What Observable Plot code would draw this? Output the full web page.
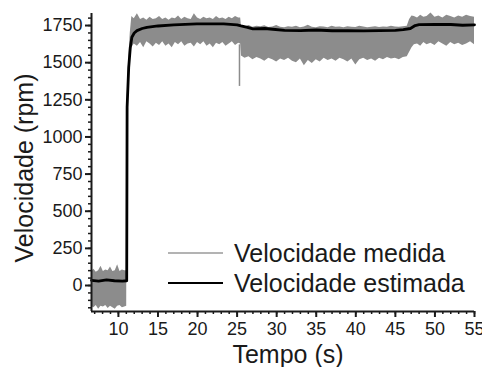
<!DOCTYPE html>
<html>
<head>
<meta charset="utf-8">
<script src="https://cdn.jsdelivr.net/npm/d3@7"></script>
<script src="https://cdn.jsdelivr.net/npm/@observablehq/plot@0.6"></script>
<style>
  html, body { margin: 0; padding: 0; background: white; }
  #chart { position: relative; width: 482px; height: 367px; overflow: hidden; }
</style>
</head>
<body>
<div id="chart"></div>
<script>
// ---- Data ----
// Measured speed: envelope of the noisy gray band
const bandT = [
  6.6, 6.9, 7.2, 7.5, 7.8, 8.1, 8.4, 8.7, 9.0, 9.3, 9.6, 9.9, 10.2, 10.5, 10.8, 11.05,
  11.1, 11.3, 11.5, 11.7, 12.0, 12.4, 12.8, 13.2, 13.6, 14.0, 14.4, 14.8, 15.2, 15.6, 16.0, 16.4, 16.8, 17.2, 17.6, 18.0, 18.4, 18.8, 19.2, 19.6, 20.0, 20.4, 20.8, 21.2, 21.6, 22.0, 22.4, 22.8, 23.2, 23.6, 24.0, 24.4, 24.8, 25.2, 25.45,
  25.55, 26.0, 26.5, 27.0, 27.5, 28.0, 28.5, 29.0, 29.5, 30.0, 30.5, 31.0, 31.5, 32.0, 32.5, 33.0, 33.5, 34.0, 34.5, 35.0, 35.5, 36.0, 36.5, 37.0, 37.5, 38.0, 38.5, 39.0, 39.5, 40.0, 40.5, 41.0, 41.5, 42.0, 42.5, 43.0, 43.5, 44.0, 44.5, 45.0, 45.5, 46.0, 46.5,
  46.8, 47.1, 47.4, 47.8, 48.2, 48.6, 49.0, 49.5, 50.0, 50.5, 51.0, 51.5, 52.0, 52.5, 53.0, 53.5, 54.0, 54.5, 55.0
];
const bandHigh = [
  95, 110, 90, 100, 130, 95, 105, 100, 125, 95, 100, 140, 95, 105, 100, 100,
  1250, 1520, 1700, 1810, 1795, 1830, 1790, 1800, 1785, 1805, 1790, 1795, 1810, 1790, 1800, 1785, 1800, 1795, 1815, 1790, 1805, 1795, 1790, 1830, 1800, 1790, 1805, 1795, 1800, 1790, 1810, 1795, 1800, 1790, 1805, 1795, 1810, 1800, 1800,
  1745, 1740, 1750, 1738, 1745, 1742, 1748, 1736, 1740, 1750, 1738, 1735, 1742, 1738, 1745, 1735, 1740, 1752, 1738, 1735, 1742, 1740, 1735, 1745, 1738, 1740, 1735, 1742, 1738, 1736, 1745, 1740, 1735, 1738, 1742, 1736, 1740, 1738, 1745, 1740, 1738, 1742, 1745,
  1790, 1815, 1810, 1800, 1820, 1805, 1810, 1835, 1805, 1815, 1800, 1820, 1810, 1800, 1815, 1805, 1820, 1810, 1805
];
const bandLow = [
  -140, -150, -135, -160, -140, -145, -135, -155, -140, -150, -160, -140, -135, -150, -145, -140,
  1150, 1420, 1560, 1600, 1625, 1610, 1635, 1600, 1640, 1625, 1605, 1630, 1615, 1640, 1610, 1625, 1600, 1635, 1620, 1640, 1610, 1625, 1630, 1605, 1635, 1620, 1640, 1610, 1625, 1600, 1630, 1620, 1635, 1610, 1625, 1640, 1615, 1630, 1625,
  1545, 1530, 1540, 1520, 1535, 1525, 1510, 1530, 1520, 1505, 1525, 1515, 1530, 1510, 1500, 1525, 1480, 1515, 1495, 1520, 1505, 1530, 1515, 1525, 1510, 1530, 1520, 1505, 1525, 1485, 1520, 1530, 1515, 1525, 1510, 1530, 1520, 1535, 1525, 1530, 1520, 1535, 1540,
  1570, 1600, 1620, 1625, 1610, 1635, 1620, 1630, 1615, 1640, 1625, 1610, 1635, 1620, 1630, 1615, 1625, 1640, 1620
];
// Downward spike in the measured speed
const spikeT = [25.3];
const spikeLow = [1340];
const spikeHigh = [1620];

// Estimated speed (black line)
const estT = [6.6, 7.5, 8.5, 9.5, 10.5, 11.05, 11.1, 11.3, 11.5, 11.7, 12.0, 12.35, 13.0, 13.6, 15.0, 17.0, 19.9, 23.3, 25.0, 25.5, 26.3, 27.0, 28.5, 29.5, 31.0, 33.0, 35.0, 37.0, 39.0, 41.0, 43.0, 45.0, 46.0, 46.9, 47.5, 48.0, 50.0, 52.0, 53.5, 55.0];
const estV = [35, 30, 38, 32, 30, 32, 1200, 1467, 1600, 1671, 1700, 1716, 1730, 1738, 1747, 1754, 1761, 1761, 1755, 1748, 1738, 1728, 1730, 1725, 1718, 1716, 1720, 1715, 1716, 1714, 1716, 1718, 1722, 1730, 1750, 1756, 1758, 1757, 1752, 1755];

// Ticks
const xTicks = [10, 15, 20, 25, 30, 35, 40, 45, 50, 55];
const yTicks = [0, 250, 500, 750, 1000, 1250, 1500, 1750];
const xMinor = d3.range(7, 56, 1);
const yMinor = d3.range(-150, 1801, 50);

const xTitle = "Tempo (s)";
const yTitle = "Velocidade (rpm)";
const seriesNames = ["Velocidade medida", "Velocidade estimada"];
const seriesColors = ["#8c8c8c", "#000000"];

// ---- Build tables ----
const band = bandT.map((t, i) => ({t, low: bandLow[i], high: bandHigh[i]}));
const spike = spikeT.map((t, i) => ({t, low: spikeLow[i], high: spikeHigh[i]}));
const est = estT.map((t, i) => ({t, v: estV[i]}));

const xMin = 6.6, yMin = -175;
const ink = "#1a1a1a";
const font = "'Liberation Sans', Arial, sans-serif";

const svg = Plot.plot({
  width: 482,
  height: 367,
  marginLeft: 91,
  marginRight: 8,
  marginTop: 13,
  marginBottom: 56,
  style: {fontFamily: font, color: ink, background: "white", overflow: "visible"},
  x: {domain: [xMin, 55]},
  y: {domain: [yMin, 1831]},
  marks: [
    Plot.areaY(band, {x: "t", y1: "low", y2: "high", fill: seriesColors[0]}),
    Plot.ruleX(spike, {x: "t", y1: "low", y2: "high", stroke: seriesColors[0], strokeWidth: 1.5}),
    Plot.lineY(est, {x: "t", y: "v", stroke: seriesColors[1], strokeWidth: 2.8}),
    Plot.ruleX([xMin], {stroke: ink, strokeWidth: 2}),
    Plot.ruleY([yMin], {stroke: ink, strokeWidth: 2}),
    Plot.axisX(xMinor, {tickSize: 3, tickFormat: () => "", label: null, stroke: ink, strokeWidth: 1.5}),
    Plot.axisX(xTicks, {tickSize: 6, tickPadding: 5, fontSize: 18, tickFormat: d => String(d), label: null, stroke: ink, strokeWidth: 2}),
    Plot.axisY(yMinor, {tickSize: 3, tickFormat: () => "", label: null, stroke: ink, strokeWidth: 1.5}),
    Plot.axisY(yTicks, {tickSize: 6, tickPadding: 3, fontSize: 18, tickFormat: d => String(d), label: null, stroke: ink, strokeWidth: 2})
  ]
});

const s = d3.select(svg);
// Axis titles
s.append("text")
  .attr("x", 288).attr("y", 363)
  .attr("text-anchor", "middle")
  .attr("font-size", 25).attr("font-family", font).attr("fill", ink)
  .text(xTitle);
s.append("text")
  .attr("transform", "translate(33,168) rotate(-90)")
  .attr("text-anchor", "middle")
  .attr("font-size", 25).attr("font-family", font).attr("fill", ink)
  .text(yTitle);

// Legend
const lg = s.append("g");
const legendY = [253, 283];
seriesNames.forEach((name, i) => {
  lg.append("line")
    .attr("x1", 168).attr("x2", 223)
    .attr("y1", legendY[i]).attr("y2", legendY[i])
    .attr("stroke", i === 0 ? "#9a9a9a" : "#000")
    .attr("stroke-width", i === 0 ? 1.6 : 2);
  lg.append("text")
    .attr("x", 234).attr("y", legendY[i] + 9)
    .attr("text-anchor", "start")
    .attr("font-size", 25).attr("font-family", font).attr("fill", ink)
    .text(name);
});

document.getElementById("chart").appendChild(svg);
</script>
</body>
</html>
